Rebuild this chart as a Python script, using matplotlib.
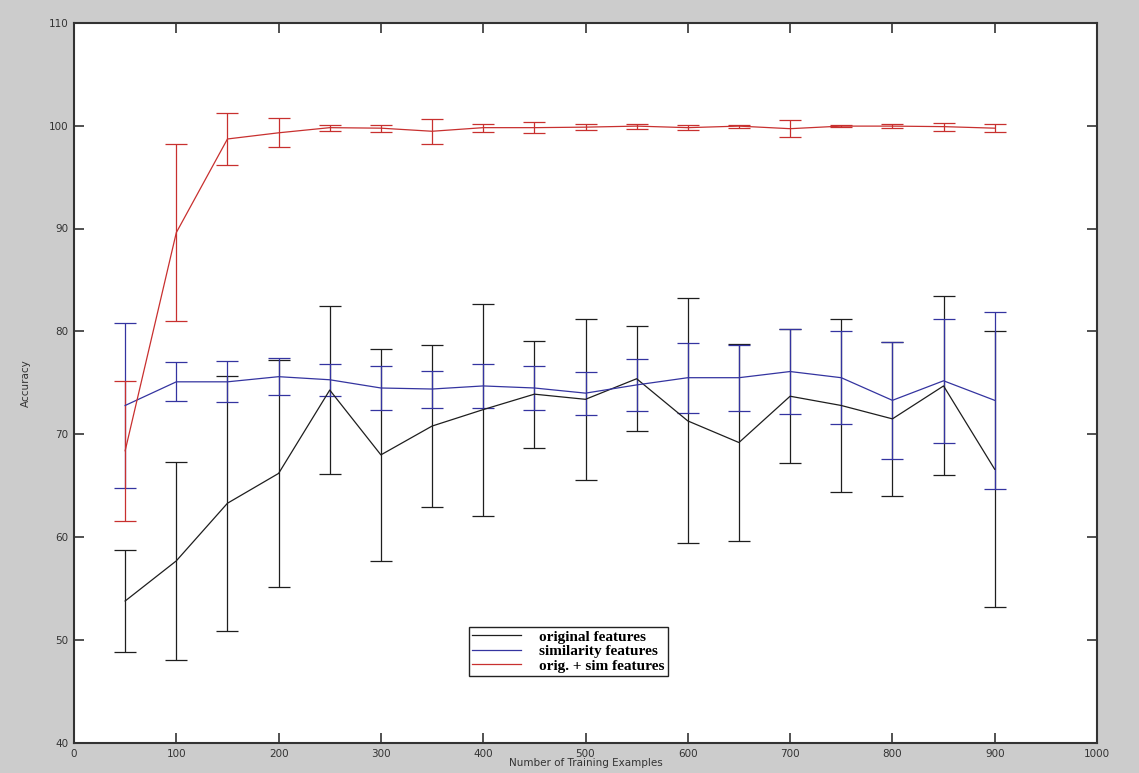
import numpy as np
import matplotlib.pyplot as plt

# número de ejemplos de entrenamiento
n_train = [50, 100, 150, 200, 250, 300, 350, 400, 450, 500,
           550, 600, 650, 700, 750, 800, 850, 900]

# original features (media y desviación)
orig_mean = [53.8, 57.7, 63.3, 66.2, 74.3, 68.0, 70.8, 72.4, 73.9, 73.4,
             75.4, 71.3, 69.2, 73.7, 72.8, 71.5, 74.7, 66.6]
orig_err = [5.0, 9.6, 12.4, 11.0, 8.2, 10.3, 7.9, 10.3, 5.2, 7.85,
            5.1, 11.9, 9.6, 6.5, 8.4, 7.5, 8.7, 13.4]

# similarity features
sim_mean = [72.8, 75.1, 75.1, 75.6, 75.3, 74.5, 74.4, 74.7, 74.5, 74.0,
            74.8, 75.5, 75.5, 76.1, 75.5, 73.3, 75.2, 73.3]
sim_err = [8.0, 1.9, 2.0, 1.8, 1.55, 2.1, 1.8, 2.15, 2.1, 2.1,
           2.5, 3.4, 3.2, 4.1, 4.5, 5.7, 6.0, 8.6]

# orig. + sim features
comb_mean = [68.4, 89.6, 98.7, 99.3, 99.8, 99.75, 99.45, 99.8, 99.8, 99.85,
             99.95, 99.8, 99.95, 99.7, 99.95, 99.95, 99.9, 99.75]
comb_err = [6.8, 8.6, 2.55, 1.4, 0.3, 0.35, 1.2, 0.4, 0.55, 0.3,
            0.25, 0.25, 0.15, 0.8, 0.1, 0.2, 0.4, 0.4]

labels = ['original features', 'similarity features', 'orig. + sim features']
colores = ['#1e1e1e', '#3434a0', '#c8302f']

W, H = 1139, 773
fig = plt.figure(figsize=(W / 100, H / 100), dpi=100, facecolor='#cccccc')
ax = fig.add_axes([74 / W, 30 / H, 1023 / W, 720.3 / H])
ax.set_facecolor('white')

eb1 = ax.errorbar(n_train, orig_mean, yerr=orig_err, color=colores[0],
                  lw=0.9, elinewidth=0.9, capsize=8, capthick=0.9)
eb2 = ax.errorbar(n_train, sim_mean, yerr=sim_err, color=colores[1],
                  lw=0.9, elinewidth=0.9, capsize=8, capthick=0.9)
eb3 = ax.errorbar(n_train, comb_mean, yerr=comb_err, color=colores[2],
                  lw=0.9, elinewidth=0.9, capsize=8, capthick=0.9)

ax.set_xlim(0, 1000)
ax.set_ylim(40, 110)
ax.set_xticks(range(0, 1001, 100))
ax.set_yticks(range(40, 111, 10))
ax.tick_params(direction='in', length=7, width=1.2, top=True, right=True,
               labelsize=7.5, colors='#333333', labelcolor='#333333', pad=4)
for sp in ax.spines.values():
    sp.set_linewidth(1.5)
    sp.set_color('#333333')

ax.set_xlabel('Number of Training Examples', fontsize=7.5, color='#333333')
ax.xaxis.set_label_coords(0.5, -0.021)
ax.set_ylabel('Accuracy', fontsize=7.5, color='#333333')
ax.yaxis.set_label_coords(-0.042, 0.5)

# leyenda en la posición del original (píxeles de la figura)
leg = fig.legend([eb1[0], eb2[0], eb3[0]], labels,
                 loc='upper left', bbox_to_anchor=(469 / W, 1 - 627 / H),
                 frameon=True, fancybox=False,
                 prop={'family': 'Liberation Serif', 'weight': 'bold', 'size': 11},
                 handlelength=3.2, handletextpad=1.2, borderpad=0.2,
                 labelspacing=0.05, borderaxespad=0)
leg.get_frame().set_edgecolor('#222222')
leg.get_frame().set_linewidth(1.0)
leg.get_frame().set_alpha(1.0)

fig.savefig('out.png', dpi=100, facecolor=fig.get_facecolor())
